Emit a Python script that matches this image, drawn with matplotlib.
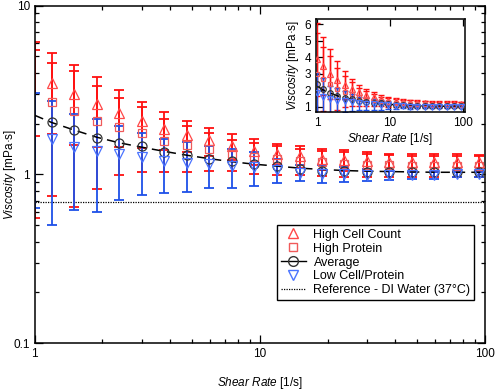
"""Viscosity vs shear rate for the three sample groups, with linear-scale inset."""
import numpy as np
import matplotlib
matplotlib.use("Agg")
import matplotlib.pyplot as plt
from matplotlib.lines import Line2D
from matplotlib.ticker import NullFormatter, NullLocator

plt.rcParams.update({
    "font.family": "Liberation Sans",
    "font.size": 8.5,
    "mathtext.fontset": "custom",
    "mathtext.rm": "Liberation Sans",
    "mathtext.it": "Liberation Sans:italic",
})

# ---- data (mPa·s) ----
shear = [1.0, 1.19, 1.5, 1.89, 2.37, 2.99, 3.76, 4.73, 5.96, 7.5, 9.44,
         11.9, 15.0, 18.9, 23.7, 29.9, 37.6, 47.3, 59.6, 75.0, 94.4]
high_cell = [3.88, 3.49, 2.98, 2.61, 2.32, 2.07, 1.87, 1.71, 1.59, 1.47, 1.375,
             1.33, 1.28, 1.24, 1.22, 1.20, 1.19, 1.18, 1.18, 1.19, 1.18]
high_cell_err = [2.2, 1.76, 1.49, 1.15, 0.86, 0.63, 0.47, 0.36, 0.30, 0.26, 0.24,
                 0.19, 0.19, 0.18, 0.17, 0.15, 0.14, 0.15, 0.15, 0.14, 0.13]
high_protein = [3.0, 2.67, 2.37, 2.08, 1.92, 1.77, 1.58, 1.49, 1.41, 1.33, 1.27,
                1.23, 1.20, 1.18, 1.16, 1.14, 1.13, 1.12, 1.12, 1.12, 1.12]
high_protein_err = [2.45, 1.92, 1.73, 1.26, 0.93, 0.73, 0.55, 0.45, 0.36, 0.28, 0.26,
                    0.24, 0.21, 0.20, 0.19, 0.18, 0.17, 0.16, 0.16, 0.16, 0.16]
average = [2.35, 2.05, 1.83, 1.65, 1.54, 1.47, 1.36, 1.31, 1.24, 1.20, 1.15,
           1.12, 1.08, 1.05, 1.045, 1.04, 1.03, 1.03, 1.035, 1.04, 1.04]
low = [1.83, 1.62, 1.45, 1.37, 1.32, 1.26, 1.20, 1.17, 1.15, 1.12, 1.10,
       1.06, 1.02, 1.01, 1.0, 0.99, 0.99, 0.99, 0.99, 1.0, 1.0]
low_err = [1.2, 1.12, 0.83, 0.77, 0.61, 0.50, 0.42, 0.38, 0.32, 0.29, 0.25,
           0.17, 0.11, 0.12, 0.10, 0.08, 0.06, 0.05, 0.05, 0.04, 0.035]
# fitted curve through the average (dashed line)
fit_x = [1.0, 1.19, 1.5, 1.89, 2.37, 2.99, 3.76, 4.73, 5.96, 7.5, 9.44,
         11.9, 15.0, 18.9, 23.7, 29.9, 37.6, 47.3, 59.6, 75.0, 94.4, 100.0]
fit_y = [2.24, 2.03, 1.83, 1.66, 1.54, 1.45, 1.37, 1.30, 1.24, 1.19, 1.15,
         1.12, 1.09, 1.07, 1.055, 1.045, 1.04, 1.035, 1.03, 1.03, 1.03, 1.03]
water = 0.69

RED = "#ff1010"
BLUE = "#1e50e8"
TRI = "#ff4848"
SQ = "#f05a5a"
DTRI = "#4a74ff"
CIRC = "#333333"


def draw(ax, start, ms, cap, lw):
    for y, e, c in [(high_cell, high_cell_err, RED), (high_protein, high_protein_err, RED),
                    (low, low_err, BLUE)]:
        ax.errorbar(shear, y, yerr=e, fmt="none", ecolor=c, elinewidth=lw,
                    capsize=cap, capthick=lw, zorder=2)
    ax.plot(fit_x, fit_y, ls=(0, (6, 4)), color="k", lw=1.1, zorder=3)
    s = slice(start, None)
    ax.plot(shear[s], high_cell[s], "^", ms=ms, mfc="none", mec=TRI, mew=0.9, zorder=4)
    ax.plot(shear[s], high_protein[s], "s", ms=ms * 0.85, mfc="none", mec=SQ, mew=0.9, zorder=4)
    ax.plot(shear[s], average[s], "o", ms=ms, mfc="none", mec=CIRC, mew=0.9, zorder=4)
    ax.plot(shear[s], low[s], "v", ms=ms, mfc="none", mec=DTRI, mew=0.9, zorder=4)


fig = plt.figure(figsize=(4.98, 3.9), dpi=100)
ax = fig.add_axes([0.0697, 0.1197, 0.9043, 0.866])
draw(ax, 1, 6.5, 3.5, 1.3)
ax.axhline(water, color="k", ls=(0, (1, 1)), lw=0.9, zorder=1)
ax.set_xscale("log"); ax.set_yscale("log")
ax.set_xlim(1, 100); ax.set_ylim(0.1, 10)
ax.set_xticks([1, 10, 100], ["1", "10", "100"])
ax.set_yticks([0.1, 1, 10], ["0.1", "1", "10"])
ax.xaxis.set_minor_formatter(NullFormatter()); ax.yaxis.set_minor_formatter(NullFormatter())
ax.tick_params(which="both", direction="in", top=True, right=True, width=0.9)
ax.tick_params(which="major", length=6)
ax.tick_params(which="minor", length=3)
for sp in ax.spines.values():
    sp.set_linewidth(1.1)
ax.set_xlabel(r"$\mathit{Shear\ Rate}$ [1/s]")
ax.set_ylabel(r"$\mathit{Viscosity}$ [mPa·s]")
ax.xaxis.set_label_coords(0.5, -0.095)
ax.yaxis.set_label_coords(-0.038, 0.5)

handles = [
    Line2D([], [], marker="^", ls="none", ms=7, mfc="none", mec=TRI),
    Line2D([], [], marker="s", ls="none", ms=6, mfc="none", mec=SQ),
    Line2D([], [], marker="o", ls="-", color="k", lw=1, ms=7, mfc="none", mec=CIRC),
    Line2D([], [], marker="v", ls="none", ms=7, mfc="none", mec=DTRI),
    Line2D([], [], ls=(0, (1, 1)), color="k", lw=0.9),
]
labels = ["High Cell Count", "High Protein", "Average", "Low Cell/Protein",
          "Reference - DI Water (37°C)"]
leg = ax.legend(handles, labels, loc="upper right", bbox_to_anchor=(0.976, 0.35),
                fontsize=9, frameon=True, fancybox=False, edgecolor="k", framealpha=1,
                borderpad=0.3, labelspacing=0.15, handlelength=2.0, handletextpad=0.6,
                borderaxespad=0)
leg.get_frame().set_linewidth(1.0)

# ---- inset: linear viscosity ----
ins = fig.add_axes([0.634, 0.7136, 0.2998, 0.237])
ins.set_facecolor("white")
draw(ins, 0, 4, 2.2, 1.0)
ins.set_xscale("log")
ins.set_xlim(0.95, 107); ins.set_ylim(0.7, 6.3)
ins.set_xticks([1, 10, 100], ["1", "10", "100"])
ins.xaxis.set_minor_locator(NullLocator())
ins.set_yticks([1, 2, 3, 4, 5, 6])
ins.tick_params(which="both", direction="in", top=True, right=False, width=0.9,
                length=5, labelsize=8.5)
for sp in ins.spines.values():
    sp.set_linewidth(1.1)
ins.set_xlabel(r"$\mathit{Shear\ Rate}$ [1/s]", fontsize=8.5, labelpad=2)
ins.set_ylabel(r"$\mathit{Viscosity}$ [mPa·s]", fontsize=8.5, labelpad=2)

fig.savefig("out.png", dpi=100)
